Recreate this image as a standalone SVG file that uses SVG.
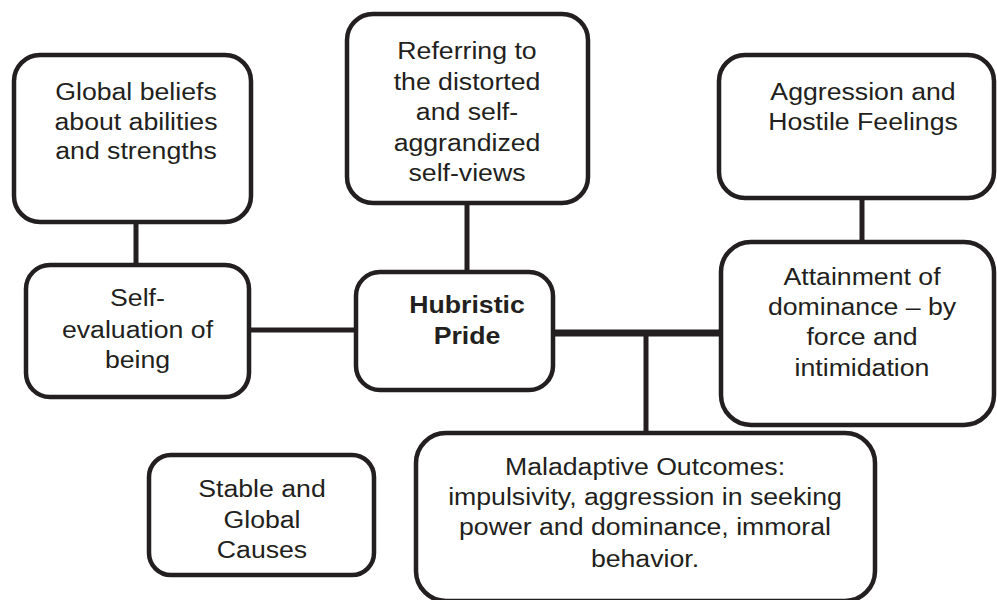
<svg xmlns="http://www.w3.org/2000/svg" width="997" height="600" viewBox="0 0 997 600">
<style>
.box{fill:#fff;stroke:#231f20;stroke-width:4.5}
.t{font-family:"Liberation Sans",Arial,sans-serif;font-size:23px;fill:#231f20;text-anchor:middle}
.b{font-weight:bold}
.c{stroke:#231f20;stroke-width:5;fill:none}
.c2{stroke:#231f20;stroke-width:7;fill:none}
</style>
<rect width="997" height="600" fill="#fff"/>
<g id="connectors">
<line class="c" x1="136" y1="222" x2="136" y2="266"/>
<line class="c" x1="467" y1="203" x2="467" y2="272"/>
<line class="c" x1="862" y1="198" x2="862" y2="242"/>
<line class="c" x1="249" y1="330" x2="356" y2="330"/>
<line class="c2" x1="553" y1="333" x2="721" y2="333"/>
<line class="c" x1="646" y1="333" x2="646" y2="433"/>
</g>
<g id="global-beliefs">
<rect class="box" x="14" y="55" width="237" height="167" rx="26"/>
<g transform="translate(136,0) scale(1.16,1)">
<text class="t" x="0" y="100">Global beliefs</text>
<text class="t" x="0" y="130">about abilities</text>
<text class="t" x="0" y="159">and strengths</text>
</g>
</g>
<g id="referring">
<rect class="box" x="347" y="14" width="241" height="189" rx="26"/>
<g transform="translate(467,0) scale(1.16,1)">
<text class="t" x="0" y="59">Referring to</text>
<text class="t" x="0" y="90">the distorted</text>
<text class="t" x="0" y="120">and self-</text>
<text class="t" x="0" y="151">aggrandized</text>
<text class="t" x="0" y="181">self-views</text>
</g>
</g>
<g id="aggression">
<rect class="box" x="719" y="55" width="275" height="143" rx="26"/>
<g transform="translate(863,0) scale(1.16,1)">
<text class="t" x="0" y="100">Aggression and</text>
<text class="t" x="0" y="130">Hostile Feelings</text>
</g>
</g>
<g id="self-evaluation">
<rect class="box" x="26" y="265" width="223" height="132" rx="24"/>
<g transform="translate(137.5,0) scale(1.16,1)">
<text class="t" x="0" y="306">Self-</text>
<text class="t" x="0" y="338">evaluation of</text>
<text class="t" x="0" y="368">being</text>
</g>
</g>
<g id="hubristic">
<rect class="box" x="356" y="272" width="197" height="118" rx="24"/>
<g transform="translate(467,0) scale(1.16,1)">
<text class="t b" x="0" y="313">Hubristic</text>
<text class="t b" x="0" y="344">Pride</text>
</g>
</g>
<g id="attainment">
<rect class="box" x="721" y="242" width="273" height="183" rx="30"/>
<g transform="translate(862,0) scale(1.16,1)">
<text class="t" x="0" y="285">Attainment of</text>
<text class="t" x="0" y="315">dominance – by</text>
<text class="t" x="0" y="345">force and</text>
<text class="t" x="0" y="376">intimidation</text>
</g>
</g>
<g id="maladaptive">
<rect class="box" x="416" y="433" width="459" height="168" rx="30"/>
<g transform="translate(645,0) scale(1.16,1)">
<text class="t" x="0" y="475">Maladaptive Outcomes:</text>
<text class="t" x="0" y="505">impulsivity, aggression in seeking</text>
<text class="t" x="0" y="535">power and dominance, immoral</text>
<text class="t" x="0" y="567">behavior.</text>
</g>
</g>
<g id="stable">
<rect class="box" x="149" y="455" width="225" height="120" rx="22"/>
<g transform="translate(262,0) scale(1.16,1)">
<text class="t" x="0" y="497">Stable and</text>
<text class="t" x="0" y="528">Global</text>
<text class="t" x="0" y="558">Causes</text>
</g>
</g>
</svg>
